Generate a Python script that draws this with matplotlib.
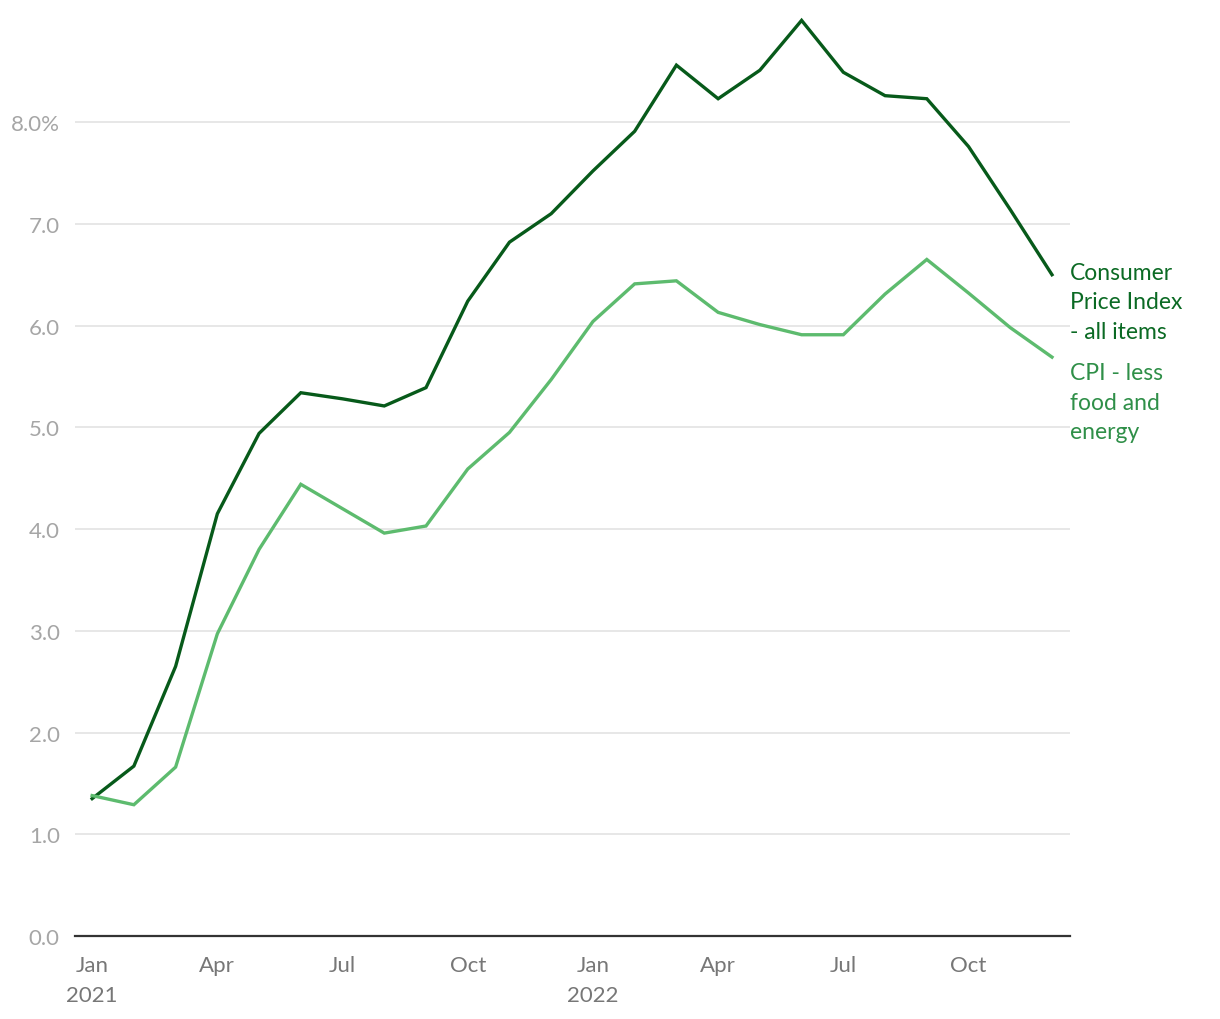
import numpy as np
import pandas as pd
import matplotlib
matplotlib.use("Agg")
import matplotlib.pyplot as plt

# ----- Data (12-month % change) -----
months = pd.date_range("2021-01-01", "2022-12-01", freq="MS")
cpi_all = [1.35, 1.67, 2.65, 4.15, 4.94, 5.34, 5.28, 5.21, 5.39, 6.24, 6.82, 7.10,
           7.52, 7.91, 8.56, 8.23, 8.51, 9.00, 8.49, 8.26, 8.23, 7.76, 7.14, 6.50]
cpi_core = [1.38, 1.29, 1.66, 2.97, 3.80, 4.44, 4.20, 3.96, 4.03, 4.59, 4.95, 5.47,
            6.04, 6.41, 6.44, 6.13, 6.01, 5.91, 5.91, 6.31, 6.65, 6.32, 5.98, 5.69]
y_ticks = [0, 1, 2, 3, 4, 5, 6, 7, 8]
series_labels = ["Consumer\nPrice Index\n- all items", "CPI - less\nfood and\nenergy"]

DARK = "#075a1a"
LIGHT = "#5dbb6e"

plt.rcParams["font.family"] = ["Lato", "DejaVu Sans"]

fig = plt.figure(figsize=(12.2, 10.2), dpi=100)
ax = fig.add_axes([0.0615, 0.0814, 0.8155, 0.9076])

x = np.arange(len(months))
ax.plot(x, cpi_all, color=DARK, lw=2.4, solid_joinstyle="miter", zorder=3)
ax.plot(x, cpi_core, color=LIGHT, lw=2.4, solid_joinstyle="miter", zorder=3)

ax.set_xlim(-0.41, 23.43)
ax.set_ylim(0, 9.1)

# y axis
ax.set_yticks(y_ticks)
ax.set_yticklabels([f"{v:.1f}%" if v == 8 else f"{v:.1f}" for v in y_ticks])
ax.grid(axis="y", color="#e3e3e3", lw=1.2)
ax.set_axisbelow(True)

# x axis: quarters
xt = [i for i, m in enumerate(months) if m.month in (1, 4, 7, 10)]
xl = []
for i in xt:
    m = months[i]
    lab = m.strftime("%b")
    if m.month == 1:
        lab += f"\n{m.year}"
    xl.append(lab)
ax.set_xticks(xt)
ax.set_xticklabels(xl, linespacing=1.6, va="top")

for s in ["top", "right", "left"]:
    ax.spines[s].set_visible(False)
ax.spines["bottom"].set_color("#333333")
ax.spines["bottom"].set_linewidth(1.6)

ax.tick_params(axis="y", length=0, pad=11, labelsize=16, labelcolor="#a6a6a6")
ax.tick_params(axis="x", length=0, pad=14, labelsize=16, labelcolor="#777777")

# direct labels
ax.annotate(series_labels[0], xy=(x[-1], cpi_all[-1]), xytext=(13, -19.4),
            textcoords="offset points", color="#0b6a24", fontsize=16.5,
            va="center", ha="left", linespacing=1.5, annotation_clip=False)
ax.annotate(series_labels[1], xy=(x[-1], cpi_core[-1]), xytext=(13, -32.4),
            textcoords="offset points", color="#2f8f48", fontsize=16.5,
            va="center", ha="left", linespacing=1.5, annotation_clip=False)

fig.savefig("out.png", dpi=100)
